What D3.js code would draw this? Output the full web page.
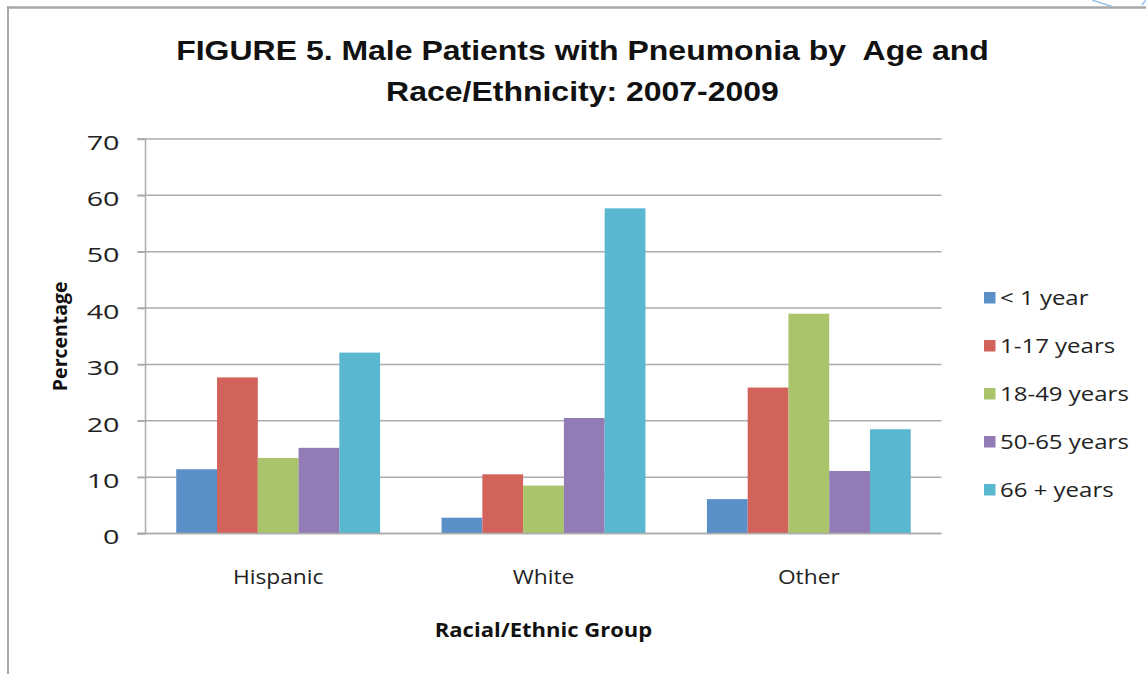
<!DOCTYPE html>
<html><head><meta charset="utf-8">
<script src="https://cdn.jsdelivr.net/npm/d3@7"></script>
<style>body{margin:0;background:#fff;} svg{display:block}</style>
</head><body>
<svg id="chart" width="1146" height="674"></svg>
<script>
const categories = ["Hispanic", "White", "Other"];
const seriesNames = ["< 1 year", "1-17 years", "18-49 years", "50-65 years", "66 + years"];
const under1 = [11.4, 2.8, 6.1];
const age1to17 = [27.7, 10.5, 25.9];
const age18to49 = [13.4, 8.5, 39.0];
const age50to65 = [15.2, 20.5, 11.1];
const age66plus = [32.1, 57.7, 18.5];
const yTicks = [0, 10, 20, 30, 40, 50, 60, 70];
const titleLines = ["FIGURE 5. Male Patients with Pneumonia by  Age and", "Race/Ethnicity: 2007-2009"];
const colors = ["#5b8fc8", "#d1635a", "#a9c46b", "#937bb6", "#5ab7d0"];

const seriesValues = [under1, age1to17, age18to49, age50to65, age66plus];
const rows = [];
categories.forEach((c, ci) => seriesValues.forEach((vals, si) => rows.push({cat: c, s: seriesNames[si], v: vals[ci], si})));

const svg = d3.select("#chart");
const W = 1146, H = 674;
const plot = {left: 145.5, right: 941.5, top: 139, bottom: 533.5};

// the source image is stretched horizontally; widen glyphs to match
function stretch(sel, k) {
  sel.each(function() {
    const len = this.getComputedTextLength();
    d3.select(this).attr("textLength", len * k).attr("lengthAdjust", "spacingAndGlyphs");
  });
}

// page frame
svg.append("line").attr("x1", 7).attr("x2", W).attr("y1", 7.5).attr("y2", 7.5).attr("stroke", "#a9a9a9").attr("stroke-width", 2.5);
svg.append("line").attr("x1", 8).attr("x2", 8).attr("y1", 6).attr("y2", H).attr("stroke", "#a9a9a9").attr("stroke-width", 2);
svg.append("path").attr("d", "M1092,0 L1112,6.5 M1142,5 L1146,0").attr("stroke", "#9fc1e6").attr("stroke-width", 1.5).attr("fill", "none");

const font = "'Open Sans', 'DejaVu Sans', sans-serif";

const x0 = d3.scaleBand().domain(categories).range([plot.left, plot.right]).paddingInner(0).paddingOuter(0);
const x1 = d3.scaleBand().domain(seriesNames).range([0, x0.bandwidth()]).paddingInner(0).paddingOuter(0.754);
const y = d3.scaleLinear().domain([0, 70]).range([plot.bottom, plot.top]);

// gridlines
svg.append("g").selectAll("line").data(yTicks).join("line")
  .attr("x1", plot.left - 8).attr("x2", plot.right)
  .attr("y1", d => y(d)).attr("y2", d => y(d))
  .attr("stroke", "#acacac").attr("stroke-width", 1.5);

// y axis
const yAxis = d3.axisLeft(y).tickValues(yTicks).tickSize(8).tickPadding(18);
const ya = svg.append("g").attr("transform", `translate(${plot.left},0)`).call(yAxis);
ya.select(".domain").attr("stroke", "#acacac").attr("stroke-width", 1.5).attr("d", `M-8,${plot.top}H0V${plot.bottom}H-8`);
ya.selectAll(".tick line").attr("stroke", "#acacac").attr("stroke-width", 1.5);
ya.selectAll(".tick text").attr("font-family", font).attr("font-size", 20.5).attr("fill", "#222").attr("dy", "0.5em");
stretch(ya.selectAll(".tick text"), 1.4);

// bars
svg.append("g").selectAll("rect").data(rows).join("rect")
  .attr("x", d => x0(d.cat) + x1(d.s))
  .attr("width", x1.bandwidth())
  .attr("y", d => y(d.v))
  .attr("height", d => y(0) - y(d.v))
  .attr("fill", d => colors[d.si]);

// baseline over bars
svg.append("line").attr("x1", plot.left - 8).attr("x2", plot.right).attr("y1", y(0)).attr("y2", y(0)).attr("stroke", "#acacac").attr("stroke-width", 1.5);

// x axis labels
const xAxis = d3.axisBottom(x0).tickSize(0).tickPadding(36);
const xa = svg.append("g").attr("transform", `translate(0,${plot.bottom})`).call(xAxis);
xa.select(".domain").remove();
xa.selectAll(".tick text").attr("font-family", font).attr("font-size", 20.5).attr("fill", "#222");
stretch(xa.selectAll(".tick text"), 1.11);

// axis titles
const xt = svg.append("text").attr("x", (plot.left + plot.right) / 2).attr("y", 637)
  .attr("text-anchor", "middle").attr("font-family", font).attr("font-weight", "bold").attr("font-size", 20).attr("fill", "#111")
  .text("Racial/Ethnic Group");
stretch(xt, 1.1);
svg.append("text").attr("transform", `translate(67,${(plot.top + plot.bottom) / 2}) rotate(-90)`)
  .attr("text-anchor", "middle").attr("font-family", font).attr("font-weight", "bold").attr("font-size", 19.5).attr("fill", "#111")
  .text("Percentage");

// title
const tl = svg.selectAll("text.title").data(titleLines).join("text").attr("class", "title")
  .attr("x", 582.5).attr("y", (d, i) => 60 + i * 41)
  .attr("text-anchor", "middle").attr("font-family", "'Liberation Sans', Arial, sans-serif")
  .attr("font-weight", "bold").attr("font-size", 28).attr("fill", "#111")
  .style("white-space", "pre").text(d => d);
stretch(tl, 1.142);

// legend
const ly = d3.scaleBand().domain(seriesNames).range([274, 514]);
const li = svg.append("g").selectAll("g").data(seriesNames).join("g")
  .attr("transform", d => `translate(984,${ly(d) + ly.bandwidth() / 2})`);
li.append("rect").attr("x", 0).attr("y", -6).attr("width", 11.5).attr("height", 11.5).attr("fill", (d, i) => colors[i]);
const lt = li.append("text").attr("x", 16).attr("y", 0).attr("dy", "0.35em").attr("font-family", font).attr("font-size", 20.5).attr("fill", "#222").text(d => d);
stretch(lt, 1.17);
</script>
</body></html>
